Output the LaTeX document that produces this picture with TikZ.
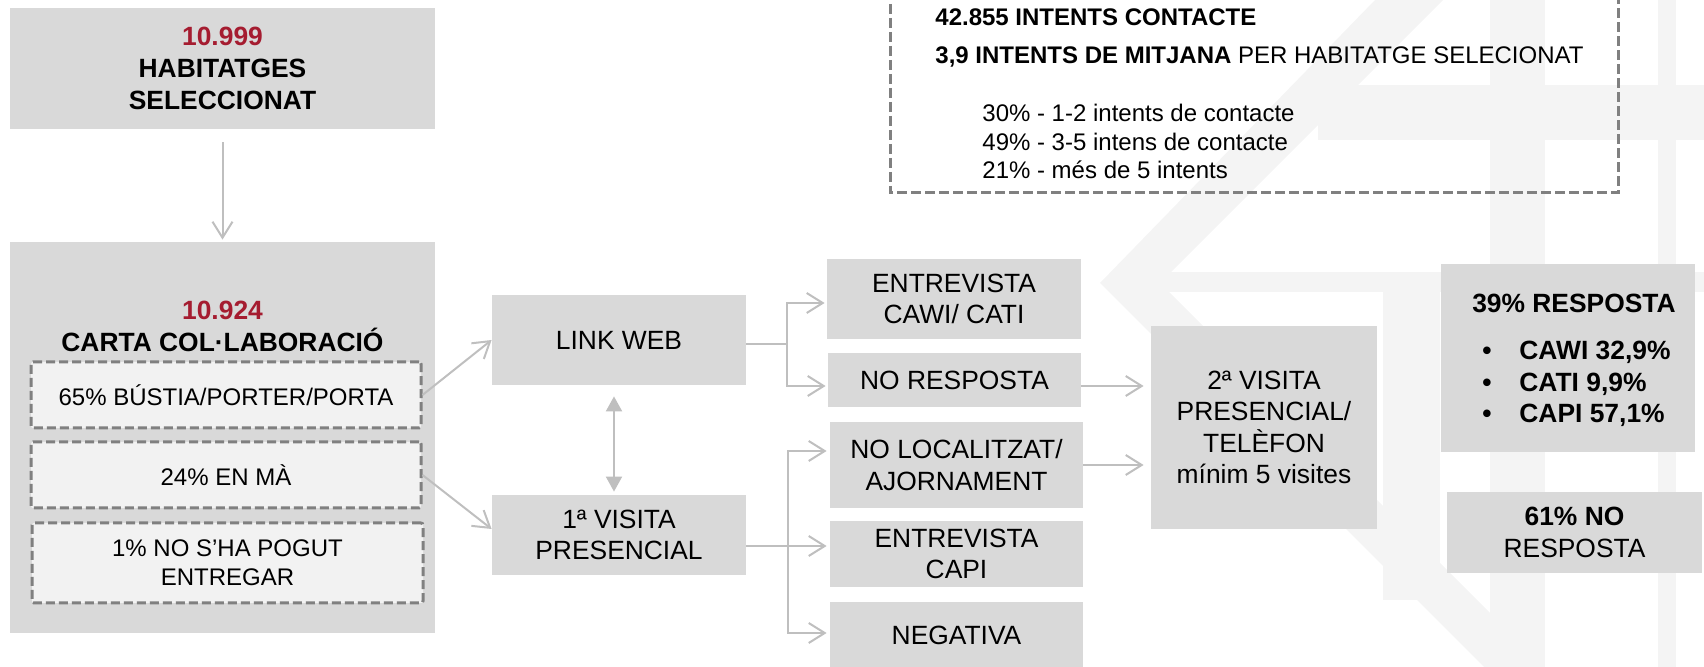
\documentclass[tikz,border=0pt]{standalone}
\usepackage{fontspec}
\setmainfont{Liberation Sans}
\usetikzlibrary{arrows.meta,calc}

% colours of the scheme
\definecolor{boxgray}{HTML}{D9D9D9}
\definecolor{innergray}{HTML}{F2F2F2}
\definecolor{dashgray}{HTML}{808080}
\definecolor{linegray}{HTML}{BFBFBF}
\definecolor{numred}{HTML}{A51C30}
\definecolor{wmark}{HTML}{F4F4F4}

% font sizes
\newcommand{\mainsize}{\fontsize{13.2}{15.8}\selectfont}
\newcommand{\smallsize}{\fontsize{12}{14.5}\selectfont}
\newcommand{\topsize}{\fontsize{12}{14.3}\selectfont}

\tikzset{
  gbox/.style={fill=boxgray, inner sep=0pt, align=center, font=\mainsize},
  dbox/.style={fill=innergray, draw=dashgray, line width=1.5pt,
    dash pattern=on 4.5pt off 2pt, rounded corners=1pt, inner sep=0pt,
    align=center, font=\smallsize},
  dframe/.style={draw=dashgray, line width=1.5pt, dash pattern=on 5pt off 2pt},
  bw/.style={minimum width=#1*0.5pt},
  bh/.style={minimum height=#1*0.5pt},
  link/.style={draw=linegray, line width=1pt},
  arr/.style={link, -{Straight Barb[length=8pt,width=10pt]}},
  biarr/.style={link, {Triangle[length=7.5pt,width=8pt]}-{Triangle[length=7.5pt,width=8pt]}},
}

\begin{document}
\begin{tikzpicture}[x=0.5pt, y=-0.5pt]

    % Frame of the picture
    \useasboundingbox (0,0) rectangle (1704,667);

    % Pale logo in the background
    \fill[wmark] (1375,0) -- (1100,283) -- (1484,667) -- (1544,667) -- (1160,283) -- (1443,0) -- cycle;
    \fill[wmark] (1160,272) rectangle (1704,292);
    \fill[wmark] (1383,292) rectangle (1440,600);
    \fill[wmark] (1318,85) rectangle (1704,140);
    \fill[wmark] (1490,0) rectangle (1545,667);
    \fill[wmark] (1658,0) rectangle (1676,667);

    % Selected dwellings and the letter
    \node[gbox, bw=425, bh=121, font=\mainsize\bfseries] (sel) at (222.5,68.5)
        {\textcolor{numred}{10.999}\\HABITATGES\\SELECCIONAT};
    \node[gbox, bw=425, bh=391] (carta) at (222.5,437.5) {};
    \node[font=\mainsize\bfseries, align=center, inner sep=0pt] (cartatxt) at (222.5,326.5)
        {\textcolor{numred}{10.924}\\CARTA COL·LABORACIÓ};

    % Ways the letter was delivered
    \node[dbox, bw=390, bh=66] (bus) at (226,395) {65\% BÚSTIA/PORTER/PORTA};
    \node[dbox, bw=390, bh=66] (ma) at (226,475) {24\% EN MÀ};
    \node[dbox, bw=391, bh=80] (noent) at (227.5,563) {1\% NO S’HA POGUT\\ENTREGAR};

    % First contact
    \node[gbox, bw=254, bh=90] (web) at (619,340) {LINK WEB};
    \node[gbox, bw=254, bh=80] (visita1) at (619,535) {1ª VISITA\\PRESENCIAL};

    % Outcomes
    \node[gbox, bw=254, bh=80] (entcawi) at (954,299) {ENTREVISTA\\CAWI/ CATI};
    \node[gbox, bw=253, bh=54] (noresp) at (954.5,380) {NO RESPOSTA};
    \node[gbox, bw=253, bh=86] (noloc) at (956.5,465) {NO LOCALITZAT/\\AJORNAMENT};
    \node[gbox, bw=253, bh=66] (entcapi) at (956.5,554) {ENTREVISTA\\CAPI};
    \node[gbox, bw=253, bh=66] (negativa) at (956.5,635) {NEGATIVA};

    % Second visit
    \node[gbox, bw=226, bh=203] (visita2) at (1264,427.5)
        {2ª VISITA\\PRESENCIAL/\\TELÈFON\\mínim 5 visites};

    % Final results
    \node[gbox, bw=254, bh=188] (resp) at (1568,358) {};
    \node[font=\mainsize\bfseries, inner sep=0pt] (resptit) at (1574,303) {39\% RESPOSTA};
    \node[anchor=west, align=left, font=\mainsize\bfseries, inner sep=0pt] (resplist) at (1482,384)
        {\makebox[18.5pt][l]{•}CAWI 32,9\%\\\makebox[18.5pt][l]{•}CATI 9,9\%\\\makebox[18.5pt][l]{•}CAPI 57,1\%};
    \node[gbox, bw=255, bh=81] (nr61) at (1574.5,532.5) {\textbf{61\% NO}\\RESPOSTA};

    % Contact attempts, in a dashed frame cut by the top edge
    \draw[dframe] (890,-10) rectangle (1618,193);
    \node[anchor=west, font=\topsize\bfseries, inner sep=0pt] (intents) at (935,17) {42.855 INTENTS CONTACTE};
    \node[anchor=west, font=\topsize, inner sep=0pt] (mitjana) at (935,57)
        {\textbf{3,9 INTENTS DE MITJANA} PER HABITATGE SELECIONAT};
    \node[anchor=west, align=left, font=\topsize, inner sep=0pt] (repart) at (982,141.5)
        {30\% - 1-2 intents de contacte\\49\% - 3-5 intens de contacte\\21\% - més de 5 intents};

    % Connectors on the left
    \draw[arr, shorten <=6.5pt, shorten >=1pt] (sel.south) -- (sel.south |- carta.north);
    \draw[arr] (bus.east) -- (web.west);
    \draw[arr] (ma.east) -- ([yshift=3pt]visita1.west);
    \draw[biarr, shorten <=5.5pt, shorten >=1.5pt] ([xshift=-2.5pt]web.south) -- ([xshift=-2.5pt]visita1.north);

    % Fork after the web link
    \coordinate (wfork) at ($(web.east)+(20.5pt,-2pt)$);
    \draw[link] ([yshift=-2pt]web.east) -- (wfork);
    \draw[arr, shorten >=1pt] (wfork) |- ([yshift=-2pt]entcawi.west);
    \draw[arr, shorten >=1pt] (wfork) |- ([yshift=-3pt]noresp.west);

    % Fork after the first visit
    \coordinate (vfork) at ($(visita1.east)+(21pt,-5.5pt)$);
    \draw[arr, shorten >=1.5pt] ([yshift=-5.5pt]visita1.east) -- (vfork -| entcapi.west);
    \draw[arr, shorten >=1.5pt] (vfork) |- ([yshift=7pt]noloc.west);
    \draw[arr, shorten >=1.5pt] (vfork) |- ([yshift=1pt]negativa.west);

    % Into the second visit
    \coordinate (nrout) at ([yshift=-3pt]noresp.east);
    \draw[arr, shorten >=3.5pt] (nrout) -- (nrout -| visita2.west);
    \draw[arr, shorten >=3.5pt] (noloc.east) -- (noloc.east -| visita2.west);

\end{tikzpicture}
\end{document}
